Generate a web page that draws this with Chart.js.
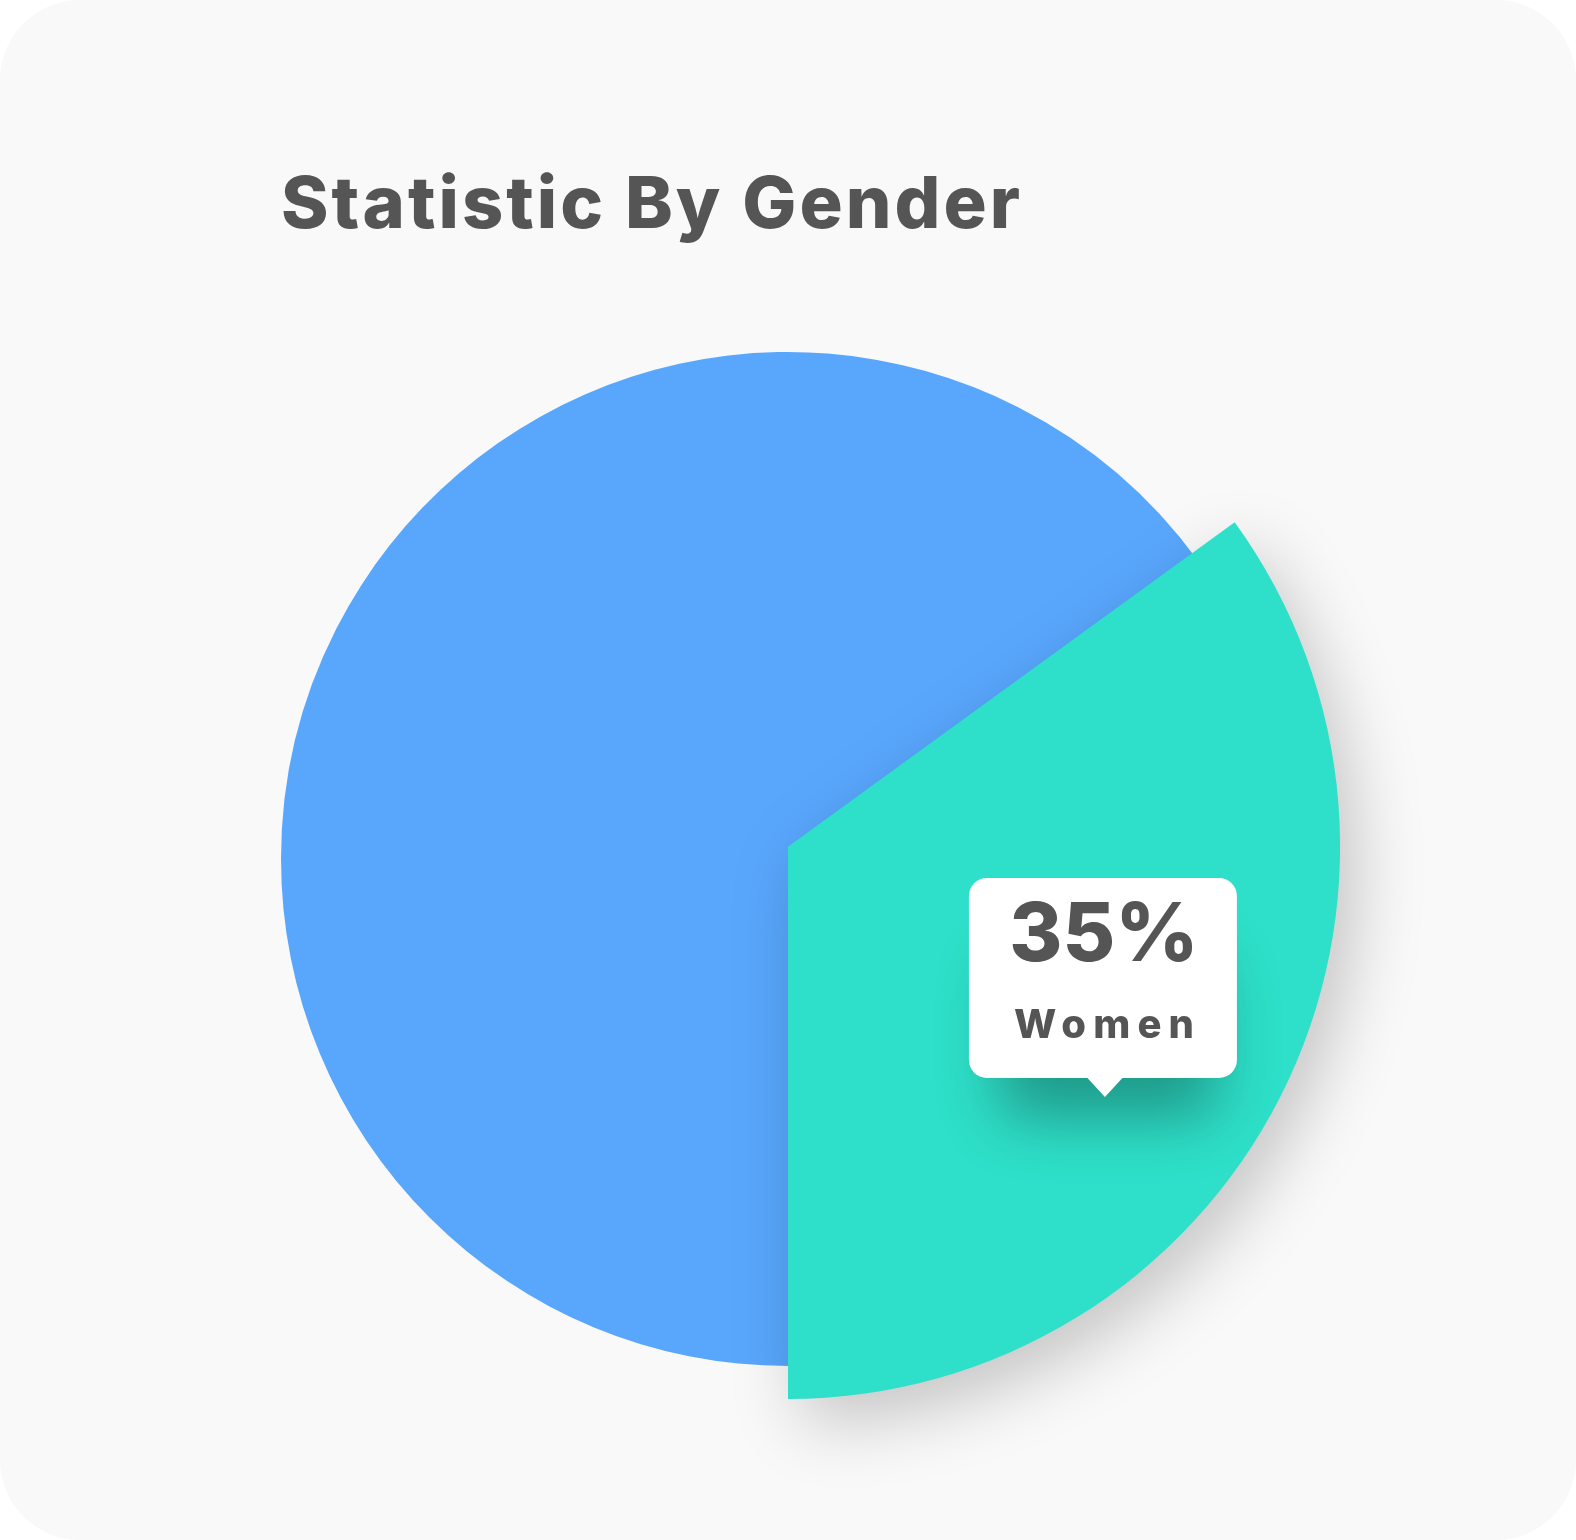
<!DOCTYPE html>
<html>
<head>
<meta charset="utf-8">
<title>Statistic By Gender</title>
<script src="https://cdn.jsdelivr.net/npm/chart.js@4.4.1/dist/chart.umd.min.js"></script>
<style>
    html, body { margin: 0; padding: 0; background: #ffffff; }
    .card {
        position: relative;
        width: 1576px;
        height: 1540px;
        background: #f9f9f9;
        border-radius: 80px;
        overflow: hidden;
    }
    #gender-chart { position: absolute; left: 0; top: 0; }
</style>
</head>
<body>
<div class="card">
    <canvas id="gender-chart" width="1576" height="1540"></canvas>
</div>
<script>
// --- DATA ---
const chartTitle = 'Statistic By Gender';
const genderLabels = ['Men', 'Women'];
const genderValues = [65, 35];
const genderColors = ['#59a7fd', '#2ee0c9'];
const highlightIndex = 1; // slice that pops out and gets the callout

const FONT = 'Inter, "Open Sans", sans-serif';
const TEXT_COLOR = '#555555';

// draw text spread over a given width (mimics the wide letter spacing),
// never squeezing it tighter than its natural width
function fitText(ctx, text, centerX, baseline, width) {
    ctx.letterSpacing = '0px';
    const natural = ctx.measureText(text).width;
    const gap = Math.max(0, (width - natural) / (text.length - 1));
    const used = natural + gap * (text.length - 1);
    ctx.letterSpacing = gap + 'px';
    ctx.textAlign = 'left';
    ctx.fillText(text, centerX - used / 2, baseline);
    ctx.letterSpacing = '0px';
}

// enlarge the highlighted slice a bit and give it a drop shadow
const popSlice = {
    id: 'popSlice',
    afterDatasetUpdate(chart) {
        const arc = chart.getDatasetMeta(0).data[highlightIndex];
        if (!arc) return;
        const r = arc.outerRadius;
        arc.outerRadius = r * 1.089;
        arc.y = arc.y - r * 0.024;
        if (!arc._shadowed) {
            const draw = arc.draw;
            arc.draw = function (ctx) {
                ctx.save();
                ctx.shadowColor = 'rgba(0, 0, 0, 0.22)';
                ctx.shadowBlur = 70;
                ctx.shadowOffsetX = 14;
                ctx.shadowOffsetY = 22;
                draw.apply(this, arguments);
                ctx.restore();
            };
            arc._shadowed = true;
        }
    }
};

function bubblePath(ctx, left, top, w, h, rad, tipX, tipY, caretW) {
    const right = left + w, bottom = top + h;
    ctx.beginPath();
    ctx.moveTo(left + rad, top);
    ctx.lineTo(right - rad, top);
    ctx.arcTo(right, top, right, top + rad, rad);
    ctx.lineTo(right, bottom - rad);
    ctx.arcTo(right, bottom, right - rad, bottom, rad);
    if (tipX !== null) {
        ctx.lineTo(tipX + caretW / 2, bottom);
        ctx.lineTo(tipX, tipY);
        ctx.lineTo(tipX - caretW / 2, bottom);
    }
    ctx.lineTo(left + rad, bottom);
    ctx.arcTo(left, bottom, left, bottom - rad, rad);
    ctx.lineTo(left, top + rad);
    ctx.arcTo(left, top, left + rad, top, rad);
    ctx.closePath();
}

// title + speech bubble with the percentage
const labels = {
    id: 'labels',
    afterDatasetsDraw(chart) {
        const ctx = chart.ctx;
        const arc = chart.getDatasetMeta(0).data[highlightIndex];
        if (!arc) return;

        ctx.save();
        ctx.fillStyle = TEXT_COLOR;
        ctx.textBaseline = 'alphabetic';
        ctx.font = `800 72px ${FONT}`;
        fitText(ctx, chartTitle, 281 + 739 / 2, 228, 739);
        ctx.restore();

        const r = arc.outerRadius;
        const tipX = arc.x + r * 0.574;
        const tipY = arc.y + r * 0.453;
        const w = 268, h = 200, rad = 18, caretH = 19, caretW = 35;
        const left = tipX - 2 - w / 2;
        const top = tipY - caretH - h;

        // soft shadow mostly under the bubble: cast it from a narrower shape hidden behind
        ctx.save();
        ctx.shadowColor = 'rgba(0, 0, 0, 0.32)';
        ctx.shadowBlur = 62;
        ctx.shadowOffsetY = 40;
        ctx.fillStyle = '#ffffff';
        bubblePath(ctx, left + 30, top + 40, w - 50, h - 40, rad, null);
        ctx.fill();
        ctx.restore();

        ctx.save();
        ctx.fillStyle = '#ffffff';
        bubblePath(ctx, left, top, w, h, rad, tipX, tipY, caretW);
        ctx.fill();
        ctx.restore();

        const total = genderValues.reduce((a, b) => a + b, 0);
        const pct = Math.round(genderValues[highlightIndex] / total * 100) + '%';
        const cx = left + w / 2 + 1;

        ctx.save();
        ctx.fillStyle = TEXT_COLOR;
        ctx.textBaseline = 'alphabetic';
        ctx.font = `800 81px ${FONT}`;
        fitText(ctx, pct, cx, top + 83, 179);
        ctx.font = `800 40px ${FONT}`;
        fitText(ctx, genderLabels[highlightIndex], cx, top + 160, 180);
        ctx.restore();
    }
};

function createGenderChart() {
    const ctx = document.getElementById('gender-chart');
    new Chart(ctx, {
        type: 'pie',
        data: {
            labels: genderLabels,
            datasets: [{
                data: genderValues,
                backgroundColor: genderColors,
                borderWidth: 0,
                hoverOffset: 0
            }]
        },
        options: {
            responsive: false,
            animation: false,
            events: [],
            rotation: 180,
            layout: { padding: { left: 281, right: 281, top: 352, bottom: 174 } },
            plugins: {
                legend: { display: false },
                tooltip: { enabled: false },
                title: { display: false }
            }
        },
        plugins: [popSlice, labels]
    });
}

document.fonts.load(`800 72px ${FONT}`).then(createGenderChart, createGenderChart);
</script>
</body>
</html>
